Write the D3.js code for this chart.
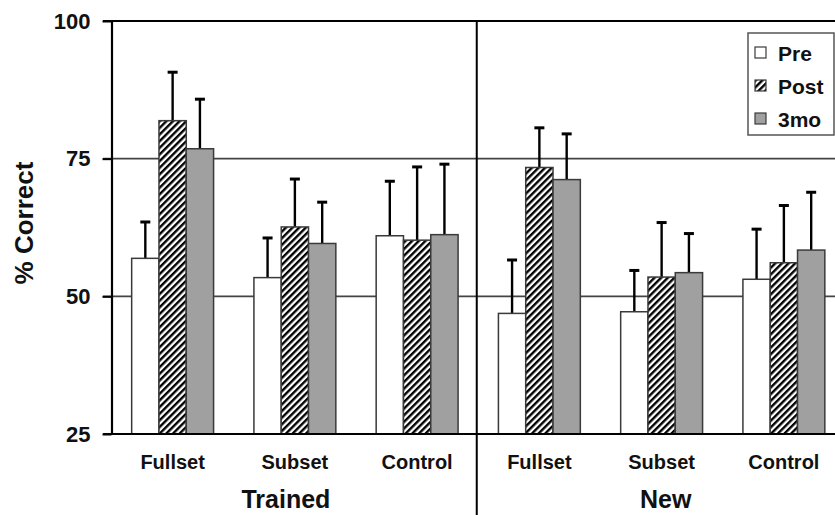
<!DOCTYPE html>
<html>
<head>
<meta charset="utf-8">
<script src="https://cdn.jsdelivr.net/npm/d3@7"></script>
<style>
  html, body { margin: 0; padding: 0; background: #fff; }
  svg { display: block; font-family: "Liberation Sans", Arial, sans-serif; font-weight: bold; }
</style>
</head>
<body>
<svg id="chart" width="835" height="515"></svg>
<script>
// ---- data ----
const categories = ["Fullset", "Subset", "Control", "Fullset", "Subset", "Control"];
const groups = ["Trained", "New"];
const seriesNames = ["Pre", "Post", "3mo"];
const preValues  = [56.9, 53.4, 61.0, 46.9, 47.2, 53.1];
const preErr     = [6.6, 7.2, 9.9, 9.7, 7.5, 9.1];
const postValues = [81.9, 62.6, 60.2, 73.4, 53.5, 56.1];
const postErr    = [8.8, 8.7, 13.3, 7.2, 9.9, 10.4];
const m3Values   = [76.8, 59.6, 61.2, 71.2, 54.3, 58.4];
const m3Err      = [9.0, 7.5, 12.8, 8.3, 7.1, 10.5];
const yTicks = [25, 50, 75, 100];

const values = [preValues, postValues, m3Values];
const errs = [preErr, postErr, m3Err];

const svg = d3.select("#chart");

// patterns
const defs = svg.append("defs");
const pat = defs.append("pattern")
  .attr("id", "hatch").attr("patternUnits", "userSpaceOnUse")
  .attr("width", 4.7).attr("height", 4.7)
  .attr("patternTransform", "rotate(45)");
pat.append("rect").attr("width", 4.7).attr("height", 4.7).attr("fill", "#fff");
pat.append("line").attr("x1", 1.2).attr("y1", 0).attr("x2", 1.2).attr("y2", 4.7)
  .attr("stroke", "#000").attr("stroke-width", 2.4);

const fills = ["#ffffff", "url(#hatch)", "#a0a0a0"];

// scales
const x = d3.scaleBand().domain(d3.range(categories.length))
  .range([111.5, 845]).paddingInner(0.33).paddingOuter(0.165);
const xs = d3.scaleBand().domain(seriesNames).range([0, x.bandwidth()]).padding(0);
const y = d3.scaleLinear().domain([25, 100]).range([434, 21]);

const left = 103, right = 835;

// gridlines at 50, 75
svg.append("g").selectAll("line").data([50, 75]).join("line")
  .attr("x1", left).attr("x2", right)
  .attr("y1", d => y(d)).attr("y2", d => y(d))
  .attr("stroke", "#444").attr("stroke-width", 1.6);

// bars
const data = [];
categories.forEach((c, i) => seriesNames.forEach((s, j) => {
  data.push({ i, s, j, v: values[j][i], e: errs[j][i] });
}));

// error bars
const eg = svg.append("g");
eg.selectAll("line.stem").data(data).join("line").attr("class", "stem")
  .attr("x1", d => x(d.i) + xs(d.s) + xs.bandwidth() / 2)
  .attr("x2", d => x(d.i) + xs(d.s) + xs.bandwidth() / 2)
  .attr("y1", d => y(d.v)).attr("y2", d => y(d.v + d.e))
  .attr("stroke", "#000").attr("stroke-width", 2.4);
eg.selectAll("line.cap").data(data).join("line").attr("class", "cap")
  .attr("x1", d => x(d.i) + xs(d.s) + xs.bandwidth() / 2 - 5)
  .attr("x2", d => x(d.i) + xs(d.s) + xs.bandwidth() / 2 + 5)
  .attr("y1", d => y(d.v + d.e)).attr("y2", d => y(d.v + d.e))
  .attr("stroke", "#000").attr("stroke-width", 3);

svg.append("g").selectAll("rect").data(data).join("rect")
  .attr("x", d => x(d.i) + xs(d.s))
  .attr("width", xs.bandwidth())
  .attr("y", d => y(d.v))
  .attr("height", d => y(25) - y(d.v))
  .attr("fill", d => fills[d.j])
  .attr("stroke", "#3a3a3a").attr("stroke-width", 1.5);

// top line at 100 and bottom line at 25
svg.append("g").selectAll("line").data([25, 100]).join("line")
  .attr("x1", left).attr("x2", right)
  .attr("y1", d => y(d)).attr("y2", d => y(d))
  .attr("stroke", "#000").attr("stroke-width", 2.2);

// y axis
const yAxis = d3.axisLeft(y).tickValues(yTicks).tickSize(9).tickSizeOuter(0).tickPadding(12);
const ya = svg.append("g").attr("transform", `translate(${x.range()[0]},0)`).call(yAxis);
ya.select(".domain").attr("stroke", "#000").attr("stroke-width", 2.2);
ya.selectAll(".tick line").attr("stroke", "#000").attr("stroke-width", 2);
ya.selectAll(".tick text").attr("font-size", 22).attr("font-weight", "bold")
  .attr("font-family", "'Liberation Sans', Arial, sans-serif").attr("fill", "#111");

// divider between groups
const divX = x.range()[0] + 3 * x.step() - 1.5;
svg.append("line").attr("x1", divX).attr("x2", divX).attr("y1", y(100)).attr("y2", 515)
  .attr("stroke", "#000").attr("stroke-width", 2);

// category labels
svg.append("g").selectAll("text").data(categories).join("text")
  .attr("x", (d, i) => x(i) + x.bandwidth() / 2)
  .attr("y", 469)
  .attr("text-anchor", "middle").attr("font-size", 20).attr("fill", "#111")
  .text(d => d);

// group labels
svg.append("g").selectAll("text").data(groups).join("text")
  .attr("x", (d, k) => x(1 + 3 * k) + x.bandwidth() / 2 + (k === 0 ? -9 : 4))
  .attr("y", 508)
  .attr("text-anchor", "middle").attr("font-size", 25).attr("fill", "#111")
  .text(d => d);

// y label
svg.append("text")
  .attr("transform", "translate(33,223) rotate(-90)")
  .attr("text-anchor", "middle").attr("font-size", 26).attr("fill", "#111")
  .text("% Correct");

// legend
const lg = svg.append("g");
lg.append("rect").attr("x", 748).attr("y", 33).attr("width", 86).attr("height", 102)
  .attr("fill", "#fff").attr("stroke", "#555").attr("stroke-width", 1.5);
const items = lg.selectAll("g.item").data(seriesNames).join("g").attr("class", "item")
  .attr("transform", (d, j) => `translate(755,${53 + j * 33})`);
items.append("rect").attr("x", 0).attr("y", -6).attr("width", 11).attr("height", 11)
  .attr("fill", (d, j) => fills[j]).attr("stroke", "#3a3a3a").attr("stroke-width", 1.2);
items.append("text").attr("x", 23).attr("y", 0).attr("dy", "0.36em")
  .attr("font-size", 21).attr("fill", "#111").text(d => d);
</script>
</body>
</html>
